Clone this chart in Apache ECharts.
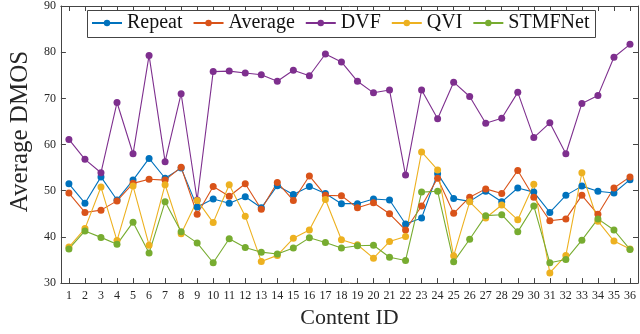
<!DOCTYPE html>
<html>
<head>
<meta charset="utf-8">
<script src="https://cdn.jsdelivr.net/npm/echarts@6/dist/echarts.min.js"></script>
<style>
  html, body { margin: 0; padding: 0; background: #fff; }
  #chart { width: 640px; height: 334px; }
</style>
</head>
<body>
<div id="chart"></div>
<script>
// Content IDs along the x axis
const contentIds = Array.from({ length: 36 }, (_, i) => String(i + 1));

// Average DMOS per content
const repeat = [51.5, 47.3, 53.0, 48.0, 52.3, 57.0, 52.7, 54.9, 46.5, 48.2, 47.3, 48.7,
  46.3, 51.1, 49.2, 50.9, 49.4, 47.2, 47.2, 48.2, 48.0, 42.8, 44.1, 53.7,
  48.3, 47.7, 49.9, 47.6, 50.6, 49.7, 45.3, 49.0, 51.0, 49.9, 49.5, 52.4];
const average = [49.5, 45.3, 45.8, 47.8, 51.6, 52.5, 52.3, 55.1, 44.9, 50.9, 48.8, 51.5,
  46.0, 51.8, 47.9, 53.2, 49.0, 48.9, 46.3, 47.4, 45.0, 41.5, 46.7, 52.7,
  45.1, 48.6, 50.4, 49.4, 54.4, 48.6, 43.5, 43.9, 49.0, 44.9, 50.6, 53.0];
const dvf = [61.1, 56.8, 53.9, 69.1, 58.0, 79.3, 56.3, 71.0, 48.0, 75.8, 75.9, 75.5,
  75.1, 73.7, 76.1, 74.9, 79.6, 77.9, 73.7, 71.2, 71.8, 53.4, 71.8, 65.6,
  73.5, 70.4, 64.6, 65.7, 71.3, 61.5, 64.7, 58.0, 68.9, 70.6, 78.9, 81.7];
const qvi = [37.8, 41.8, 50.8, 39.2, 51.0, 38.2, 51.3, 40.7, 47.9, 43.1, 51.3, 44.5,
  34.7, 36.0, 39.7, 41.5, 48.1, 39.4, 38.3, 35.4, 39.0, 40.1, 58.4, 54.5,
  35.9, 47.6, 44.1, 46.9, 43.7, 51.4, 32.2, 36.0, 53.9, 43.4, 39.1, 37.4];
const stmfnet = [37.4, 41.3, 39.9, 38.4, 43.2, 36.5, 47.6, 41.1, 38.7, 34.4, 39.6, 37.7,
  36.7, 36.3, 37.6, 39.8, 38.8, 37.6, 38.1, 38.2, 35.6, 34.9, 49.7, 49.9,
  34.6, 39.5, 44.6, 44.8, 41.1, 46.7, 34.4, 35.1, 39.3, 43.9, 41.5, 37.3];

const seriesNames = ["Repeat", "Average", "DVF", "QVI", "STMFNet"];
const seriesData = [repeat, average, dvf, qvi, stmfnet];
const colors = ["#0072BD", "#D95319", "#7E2F8E", "#EDB120", "#77AC30"];

const FONT = "Liberation Serif";
const AXIS_COLOR = "#444";
const TEXT_COLOR = "#262626";

const chart = echarts.init(document.getElementById("chart"), null, { renderer: "canvas" });

// box-style axes: ticks inside on all four sides
const frameAxis = {
  axisLine: { show: true, lineStyle: { color: AXIS_COLOR, width: 1 } },
  axisTick: { show: true, inside: true, length: 5, lineStyle: { color: AXIS_COLOR } },
  splitLine: { show: false },
};

chart.setOption({
  animation: false,
  color: colors,
  grid: { left: 42, right: 2, top: 6, bottom: 44 },
  // legend frame (the legend's own border came out too wide)
  graphic: [
    {
      type: "rect",
      left: 87,
      top: 10,
      shape: { width: 508, height: 27 },
      style: { fill: "#fff", stroke: AXIS_COLOR, lineWidth: 1 },
      z: 50,
    },
  ],
  legend: {
    left: 87,
    top: 10,
    padding: [3, 4],
    itemGap: 10,
    itemWidth: 30,
    itemHeight: 8,
    z: 60,
    textStyle: { fontFamily: FONT, fontSize: 20, color: "#111" },
    data: seriesNames,
  },
  xAxis: [
    {
      ...frameAxis,
      type: "category",
      data: contentIds,
      boundaryGap: true,
      axisTick: { ...frameAxis.axisTick, alignWithLabel: true, interval: 0 },
      axisLabel: { interval: 0, margin: 7, fontFamily: FONT, fontSize: 12, color: TEXT_COLOR },
      name: "Content ID",
      nameLocation: "middle",
      nameGap: 23,
      nameTextStyle: { fontFamily: FONT, fontSize: 22, color: TEXT_COLOR },
    },
    {
      ...frameAxis,
      type: "category",
      position: "top",
      data: contentIds,
      boundaryGap: true,
      axisTick: { ...frameAxis.axisTick, alignWithLabel: true, interval: 0 },
      axisLabel: { show: false },
    },
  ],
  yAxis: [
    {
      ...frameAxis,
      type: "value",
      min: 30,
      max: 90,
      interval: 10,
      axisLabel: { margin: 5, fontFamily: FONT, fontSize: 12, color: TEXT_COLOR },
      name: "Average DMOS",
      nameLocation: "middle",
      nameGap: 22,
      nameTextStyle: { fontFamily: FONT, fontSize: 25, color: TEXT_COLOR, padding: [0, 0, 0, 26] },
    },
    {
      ...frameAxis,
      type: "value",
      position: "right",
      min: 30,
      max: 90,
      interval: 10,
      axisLabel: { show: false },
    },
  ],
  series: seriesNames.map((name, i) => ({
    name: name,
    type: "line",
    data: seriesData[i],
    symbol: "circle",
    symbolSize: 7,
    showSymbol: true,
    lineStyle: { width: 1.1 },
    itemStyle: { color: colors[i] },
    emphasis: { disabled: true },
  })),
});
</script>
</body>
</html>
